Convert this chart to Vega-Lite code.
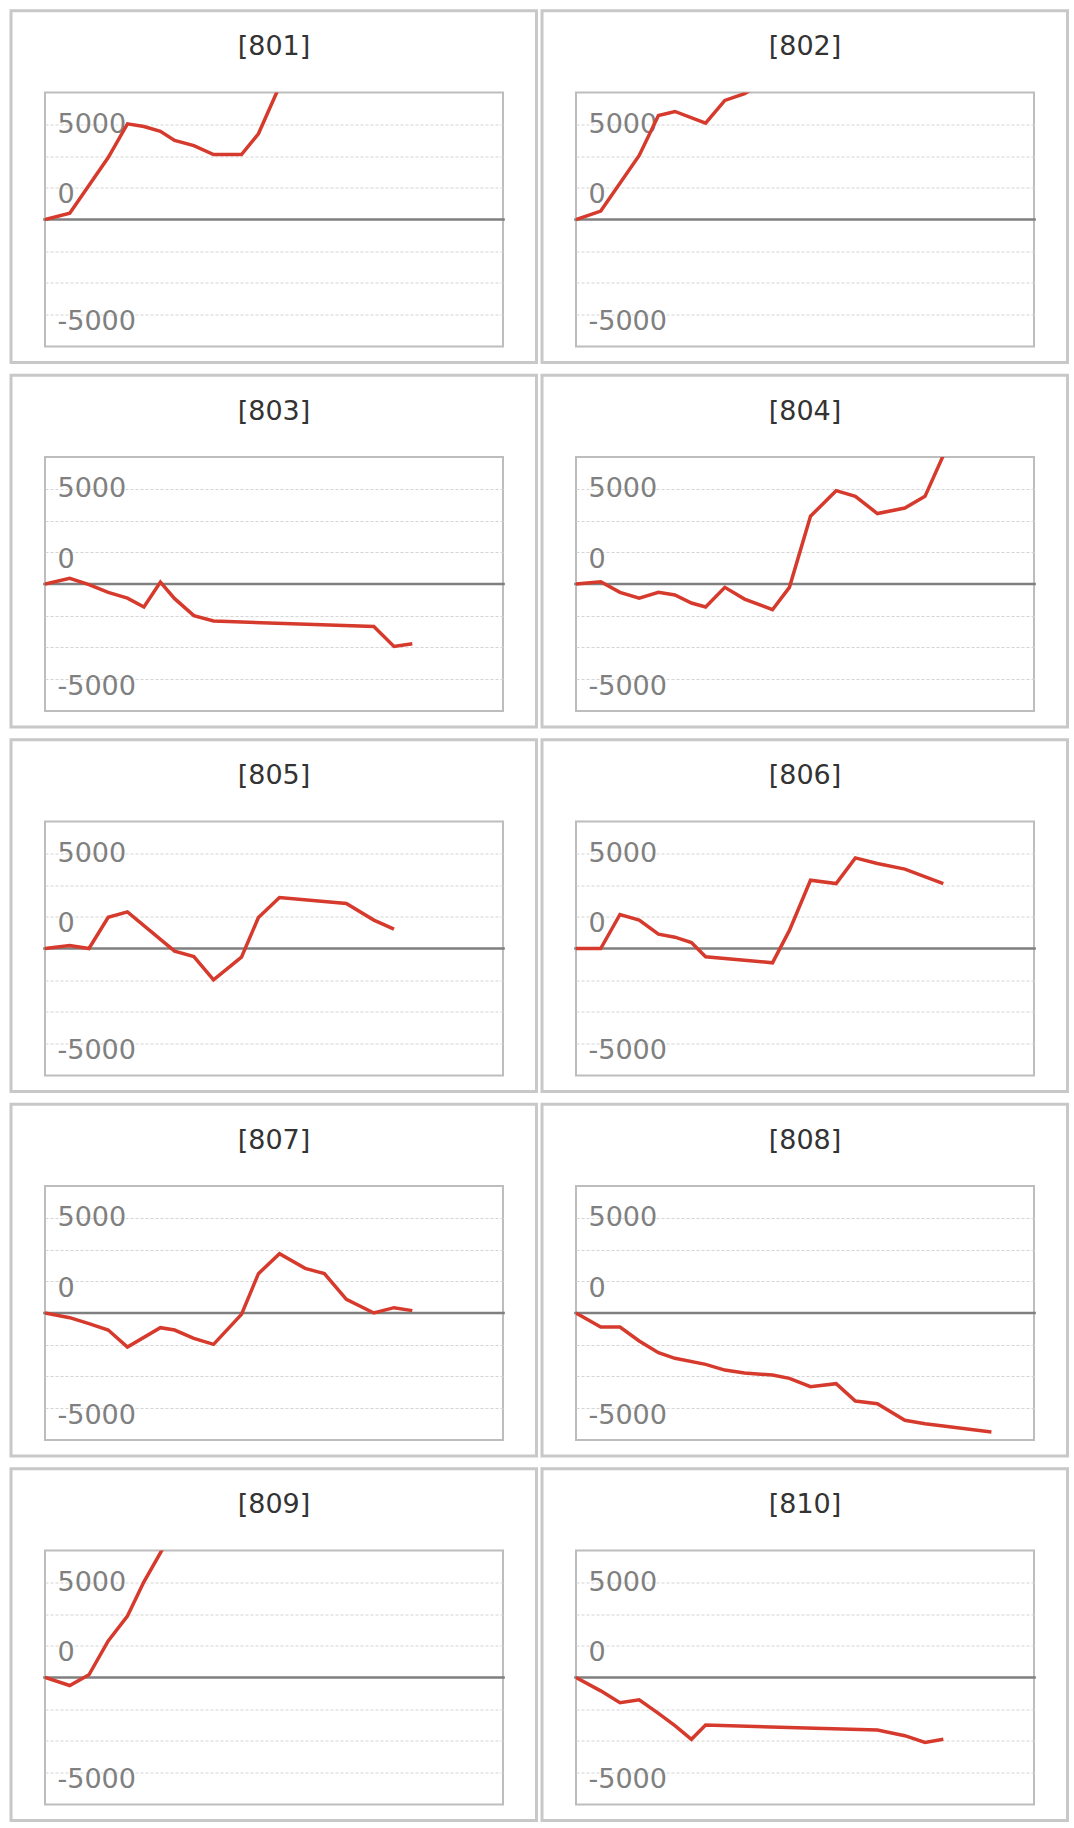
{
  "$schema": "https://vega.github.io/schema/vega-lite/v6.json",
  "background": "white",
  "padding": {"left": 8, "top": 6.5, "right": 5, "bottom": 5},
  "autosize": {"type": "pad"},
  "bounds": "flush",
  "config": {
    "font": "DejaVu Sans",
    "view": {"stroke": "#bdbdbd", "strokeWidth": 2},
    "header": {"labels": false, "title": null, "labelExpr": "''", "labelFontSize": 1, "labelPadding": 0},
    "headerFacet": {"labels": false, "title": null, "labelExpr": "''", "labelFontSize": 1, "labelPadding": 0}
  },
  "data": {
    "values": [
      {"p": "[801]", "t": 0, "v": 0}, {"p": "[801]", "t": 5.4, "v": 330}, {"p": "[801]", "t": 13.8, "v": 3250},
      {"p": "[801]", "t": 18.0, "v": 5020}, {"p": "[801]", "t": 21.6, "v": 4880}, {"p": "[801]", "t": 25.2, "v": 4630},
      {"p": "[801]", "t": 28.3, "v": 4150}, {"p": "[801]", "t": 32.5, "v": 3880}, {"p": "[801]", "t": 36.8, "v": 3410},
      {"p": "[801]", "t": 42.9, "v": 3410}, {"p": "[801]", "t": 46.6, "v": 4500}, {"p": "[801]", "t": 51.2, "v": 7000},

      {"p": "[802]", "t": 0, "v": 0}, {"p": "[802]", "t": 5.4, "v": 440}, {"p": "[802]", "t": 13.8, "v": 3360},
      {"p": "[802]", "t": 18.0, "v": 5460}, {"p": "[802]", "t": 21.6, "v": 5670}, {"p": "[802]", "t": 28.3, "v": 5060},
      {"p": "[802]", "t": 32.5, "v": 6250}, {"p": "[802]", "t": 36.8, "v": 6600}, {"p": "[802]", "t": 42.9, "v": 7500},

      {"p": "[803]", "t": 0, "v": 0}, {"p": "[803]", "t": 5.4, "v": 300}, {"p": "[803]", "t": 9.6, "v": -35},
      {"p": "[803]", "t": 13.8, "v": -440}, {"p": "[803]", "t": 18.0, "v": -740}, {"p": "[803]", "t": 21.6, "v": -1210},
      {"p": "[803]", "t": 25.2, "v": 100}, {"p": "[803]", "t": 28.3, "v": -770}, {"p": "[803]", "t": 32.5, "v": -1660},
      {"p": "[803]", "t": 36.8, "v": -1945}, {"p": "[803]", "t": 71.8, "v": -2225}, {"p": "[803]", "t": 76.2, "v": -3275},
      {"p": "[803]", "t": 80.2, "v": -3135},

      {"p": "[804]", "t": 0, "v": 0}, {"p": "[804]", "t": 5.4, "v": 120}, {"p": "[804]", "t": 9.6, "v": -440},
      {"p": "[804]", "t": 13.8, "v": -750}, {"p": "[804]", "t": 18.0, "v": -440}, {"p": "[804]", "t": 21.6, "v": -580},
      {"p": "[804]", "t": 25.2, "v": -1000}, {"p": "[804]", "t": 28.3, "v": -1210}, {"p": "[804]", "t": 32.5, "v": -175},
      {"p": "[804]", "t": 36.8, "v": -790}, {"p": "[804]", "t": 42.9, "v": -1350}, {"p": "[804]", "t": 46.6, "v": -175},
      {"p": "[804]", "t": 51.2, "v": 3555}, {"p": "[804]", "t": 56.8, "v": 4900}, {"p": "[804]", "t": 61.0, "v": 4600},
      {"p": "[804]", "t": 65.8, "v": 3700}, {"p": "[804]", "t": 71.8, "v": 3990}, {"p": "[804]", "t": 76.2, "v": 4600},
      {"p": "[804]", "t": 80.2, "v": 6750},

      {"p": "[805]", "t": 0, "v": 0}, {"p": "[805]", "t": 5.4, "v": 160}, {"p": "[805]", "t": 9.6, "v": 0},
      {"p": "[805]", "t": 13.8, "v": 1640}, {"p": "[805]", "t": 18.0, "v": 1925}, {"p": "[805]", "t": 28.3, "v": -140},
      {"p": "[805]", "t": 32.5, "v": -420}, {"p": "[805]", "t": 36.8, "v": -1645}, {"p": "[805]", "t": 42.9, "v": -455},
      {"p": "[805]", "t": 46.6, "v": 1630}, {"p": "[805]", "t": 51.2, "v": 2675}, {"p": "[805]", "t": 65.8, "v": 2360},
      {"p": "[805]", "t": 71.8, "v": 1490}, {"p": "[805]", "t": 76.2, "v": 1015},

      {"p": "[806]", "t": 0, "v": 0}, {"p": "[806]", "t": 5.4, "v": 0}, {"p": "[806]", "t": 9.6, "v": 1785},
      {"p": "[806]", "t": 13.8, "v": 1490}, {"p": "[806]", "t": 18.0, "v": 750}, {"p": "[806]", "t": 21.6, "v": 595},
      {"p": "[806]", "t": 25.2, "v": 315}, {"p": "[806]", "t": 28.3, "v": -435}, {"p": "[806]", "t": 42.9, "v": -750},
      {"p": "[806]", "t": 46.6, "v": 950}, {"p": "[806]", "t": 51.2, "v": 3585}, {"p": "[806]", "t": 56.8, "v": 3410},
      {"p": "[806]", "t": 61.0, "v": 4755}, {"p": "[806]", "t": 65.8, "v": 4460}, {"p": "[806]", "t": 71.8, "v": 4165},
      {"p": "[806]", "t": 80.2, "v": 3410},

      {"p": "[807]", "t": 0, "v": 0}, {"p": "[807]", "t": 5.4, "v": -245}, {"p": "[807]", "t": 9.6, "v": -560},
      {"p": "[807]", "t": 13.8, "v": -895}, {"p": "[807]", "t": 18.0, "v": -1785}, {"p": "[807]", "t": 25.2, "v": -770},
      {"p": "[807]", "t": 28.3, "v": -895}, {"p": "[807]", "t": 32.5, "v": -1330}, {"p": "[807]", "t": 36.8, "v": -1645},
      {"p": "[807]", "t": 42.9, "v": -70}, {"p": "[807]", "t": 46.6, "v": 2065}, {"p": "[807]", "t": 51.2, "v": 3115},
      {"p": "[807]", "t": 56.8, "v": 2345}, {"p": "[807]", "t": 61.0, "v": 2065}, {"p": "[807]", "t": 65.8, "v": 720},
      {"p": "[807]", "t": 71.8, "v": 0}, {"p": "[807]", "t": 76.2, "v": 280}, {"p": "[807]", "t": 80.2, "v": 125},

      {"p": "[808]", "t": 0, "v": 0}, {"p": "[808]", "t": 5.4, "v": -735}, {"p": "[808]", "t": 9.6, "v": -735},
      {"p": "[808]", "t": 13.8, "v": -1470}, {"p": "[808]", "t": 18.0, "v": -2085}, {"p": "[808]", "t": 21.6, "v": -2380},
      {"p": "[808]", "t": 28.3, "v": -2695}, {"p": "[808]", "t": 32.5, "v": -2995}, {"p": "[808]", "t": 36.8, "v": -3150},
      {"p": "[808]", "t": 42.9, "v": -3255}, {"p": "[808]", "t": 46.6, "v": -3430}, {"p": "[808]", "t": 51.2, "v": -3870},
      {"p": "[808]", "t": 56.8, "v": -3710}, {"p": "[808]", "t": 61.0, "v": -4620}, {"p": "[808]", "t": 65.8, "v": -4760},
      {"p": "[808]", "t": 71.8, "v": -5635}, {"p": "[808]", "t": 76.2, "v": -5810}, {"p": "[808]", "t": 80.2, "v": -5935},
      {"p": "[808]", "t": 90.7, "v": -6250},

      {"p": "[809]", "t": 0, "v": 0}, {"p": "[809]", "t": 5.4, "v": -420}, {"p": "[809]", "t": 9.6, "v": 140},
      {"p": "[809]", "t": 13.8, "v": 1920}, {"p": "[809]", "t": 18.0, "v": 3230}, {"p": "[809]", "t": 21.6, "v": 5025},
      {"p": "[809]", "t": 25.2, "v": 6545}, {"p": "[809]", "t": 28.3, "v": 7850},

      {"p": "[810]", "t": 0, "v": 0}, {"p": "[810]", "t": 5.4, "v": -700}, {"p": "[810]", "t": 9.6, "v": -1325},
      {"p": "[810]", "t": 13.8, "v": -1170}, {"p": "[810]", "t": 18.0, "v": -1885}, {"p": "[810]", "t": 21.6, "v": -2530},
      {"p": "[810]", "t": 25.2, "v": -3245}, {"p": "[810]", "t": 28.3, "v": -2495}, {"p": "[810]", "t": 65.8, "v": -2755},
      {"p": "[810]", "t": 71.8, "v": -3055}, {"p": "[810]", "t": 76.2, "v": -3405}, {"p": "[810]", "t": 80.2, "v": -3245}
    ]
  },
  "facet": {"field": "p", "type": "nominal", "title": null, "header": {"title": null, "labels": false, "labelExpr": "''"}},
  "columns": 2,
  "spacing": {"column": 73, "row": 110.5},
  "resolve": {"axis": {"y": "independent"}},
  "spec": {
    "width": 458,
    "height": 254,
    "layer": [
      {
        "transform": [{"filter": "datum.t == 0"}],
        "mark": {"type": "rect", "filled": false, "stroke": "#c8c8c8", "strokeWidth": 3},
        "encoding": {
          "x": {"datum": -7.42, "type": "quantitative", "scale": {"domain": [0, 100], "nice": false, "zero": false}, "axis": null},
          "x2": {"datum": 107.31},
          "y": {"datum": 10955, "type": "quantitative", "scale": {"domain": [-6666.67, 6666.67], "nice": false, "zero": false}},
          "y2": {"datum": -7507}
        }
      },
      {
        "transform": [{"filter": "datum.t == 0"}],
        "mark": {"type": "rule", "color": "#7f7f7f", "strokeWidth": 2.4},
        "encoding": {
          "x": {"datum": -0.4, "type": "quantitative", "scale": {"domain": [0, 100], "nice": false, "zero": false}, "axis": null},
          "x2": {"datum": 100.4},
          "y": {"datum": 0, "type": "quantitative", "scale": {"domain": [-6666.67, 6666.67], "nice": false, "zero": false}}
        }
      },
      {
        "mark": {"type": "line", "color": "#d63a2c", "strokeWidth": 3.5, "clip": true},
        "encoding": {
          "x": {"field": "t", "type": "quantitative", "scale": {"domain": [0, 100], "nice": false, "zero": false}, "axis": null},
          "y": {
            "field": "v",
            "type": "quantitative",
            "scale": {"domain": [-6666.67, 6666.67], "nice": false, "zero": false},
            "axis": {
              "values": [-5000, -3333.33, -1666.67, 1666.67, 3333.33, 5000],
              "title": null,
              "domain": false,
              "ticks": false,
              "tickSize": 0,
              "labelAlign": "left",
              "labelBaseline": "middle",
              "labelPadding": -12,
              "labelFont": "DejaVu Sans",
              "labelFontSize": 27,
              "labelColor": "#808080",
              "labelOverlap": false,
              "labelFlush": false,
              "labelExpr": "datum.value == 5000 ? '5000' : datum.value == -5000 ? '-5000' : (datum.value > 1666 && datum.value < 1667) ? '0' : ''",
              "labelOffset": {"condition": {"test": "datum.value == 5000", "value": 0}, "value": 7},
              "grid": true,
              "gridColor": "#d4d4d4",
              "gridWidth": 1,
              "gridDash": [3, 2]
            }
          }
        }
      },
      {
        "transform": [{"filter": "datum.t == 0"}],
        "mark": {"type": "text", "align": "center", "baseline": "middle", "fontSize": 27, "color": "#333333", "font": "DejaVu Sans"},
        "encoding": {
          "x": {"datum": 50, "type": "quantitative", "scale": {"domain": [0, 100], "nice": false, "zero": false}, "axis": null},
          "y": {"datum": 9040, "type": "quantitative", "scale": {"domain": [-6666.67, 6666.67], "nice": false, "zero": false}},
          "text": {"field": "p", "type": "nominal"}
        }
      }
    ]
  }
}
